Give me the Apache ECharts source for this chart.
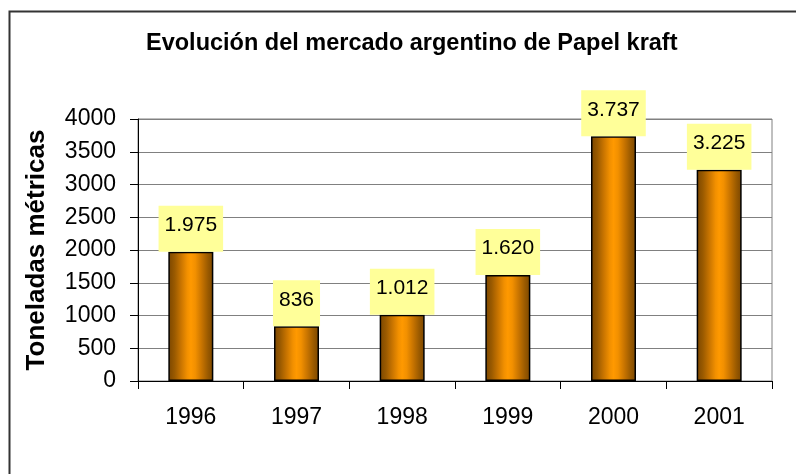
<!DOCTYPE html>
<html>
<head>
<meta charset="utf-8">
<script src="https://cdn.jsdelivr.net/npm/echarts@6/dist/echarts.min.js"></script>
<style>
  html, body { margin: 0; padding: 0; background: #fff; }
  #chart { width: 796px; height: 474px; }
</style>
</head>
<body>
<div id="chart"></div>
<script>
// categories and values
const years = ["1996", "1997", "1998", "1999", "2000", "2001"];
const tonnes = [1975, 836, 1012, 1620, 3737, 3225];
const yMin = 0;
const yMax = 4000;
const yStep = 500;

// 1975 -> "1.975" (Spanish thousands separator)
function fmt(v) {
  return String(v).replace(/\B(?=(\d{3})+(?!\d))/g, ".");
}

const font = "Liberation Sans, Arial, sans-serif";

// striped orange gradient like the old Excel bars
const barFill = new echarts.graphic.LinearGradient(0, 0, 1, 0, [
  { offset: 0, color: "#7a4600" },
  { offset: 0.14, color: "#9a5a00" },
  { offset: 0.28, color: "#c87400" },
  { offset: 0.42, color: "#f29000" },
  { offset: 0.5, color: "#ff9900" },
  { offset: 0.6, color: "#f29000" },
  { offset: 0.74, color: "#c87400" },
  { offset: 0.88, color: "#9a5a00" },
  { offset: 1, color: "#7a4600" },
]);

const chart = echarts.init(document.getElementById("chart"), null, { renderer: "canvas" });

const option = {
  animation: false,
  backgroundColor: "#fff",
  title: {
    text: "Evolución del mercado argentino de Papel kraft",
    left: 141,
    top: 27,
    textStyle: { fontFamily: font, fontWeight: "bold", fontSize: 23.5, color: "#000" },
  },
  graphic: [
    {
      type: "rect",
      shape: { x: 9.5, y: 11.5, width: 820, height: 500 },
      style: { fill: "none", stroke: "#333", lineWidth: 2 },
      silent: true,
    },
  ],
  grid: {
    left: 138,
    right: 24,
    top: 119,
    bottom: 93,
    show: true,
    borderColor: "#808080",
    borderWidth: 1,
  },
  xAxis: {
    type: "category",
    data: years,
    axisLine: { lineStyle: { color: "#000", width: 1 } },
    axisTick: { show: true, length: 8, lineStyle: { color: "#000" } },
    axisLabel: { color: "#000", fontFamily: font, fontSize: 23, margin: 25 },
  },
  yAxis: {
    type: "value",
    min: yMin,
    max: yMax,
    interval: yStep,
    name: "Toneladas métricas",
    nameLocation: "middle",
    nameGap: 88,
    nameTextStyle: { fontFamily: font, fontWeight: "bold", fontSize: 26, color: "#000" },
    axisLine: { show: true, lineStyle: { color: "#000", width: 1 } },
    axisTick: { show: true, length: 8, lineStyle: { color: "#000" } },
    axisLabel: {
      color: "#000",
      fontFamily: font,
      fontSize: 23,
      margin: 22,
      formatter: (v) => String(v),
    },
    splitLine: { show: true, lineStyle: { color: "#808080", width: 1 } },
  },
  series: [
    {
      type: "bar",
      data: tonnes,
      barWidth: 45,
      itemStyle: { color: barFill, borderColor: "#000", borderWidth: 1.5 },
      label: {
        show: true,
        position: "top",
        distance: 0,
        formatter: (p) => fmt(p.value),
        fontFamily: font,
        fontSize: 21,
        color: "#000",
        backgroundColor: "#ffff99",
        lineHeight: 25,
        padding: [7, 6, 14, 6],
      },
    },
  ],
};

chart.setOption(option);
</script>
</body>
</html>
